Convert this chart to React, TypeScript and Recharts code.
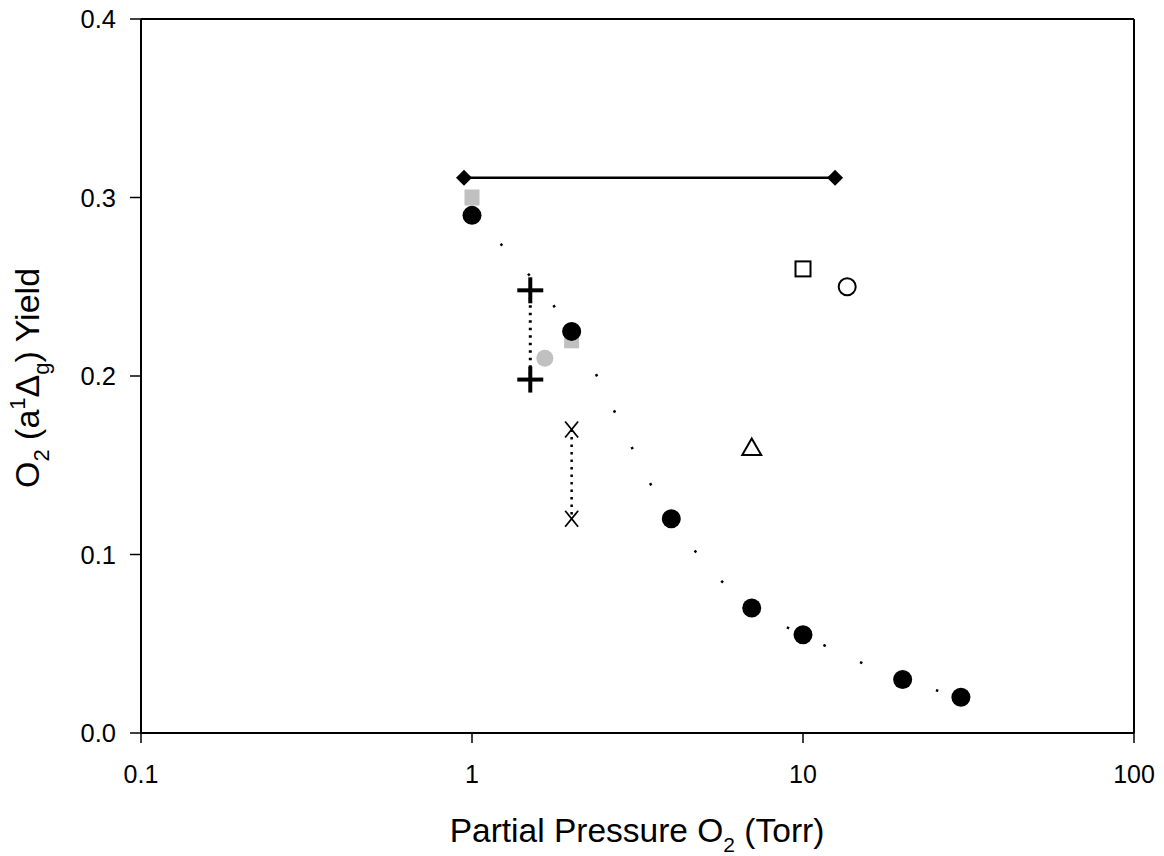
import React from 'react';
import { ComposedChart, Line, Scatter, XAxis, YAxis, ReferenceLine, Label } from 'recharts';

const FONT = '"Liberation Sans", Arial, Helvetica, sans-serif';

const xTicks = [0.1, 1, 10, 100];
const yTicks = [0, 0.1, 0.2, 0.3, 0.4];

const blackX = [1, 2, 4, 7, 10, 20, 30];
const blackY = [0.29, 0.225, 0.12, 0.07, 0.055, 0.03, 0.02];
const graySqX = [1, 2];
const graySqY = [0.3, 0.22];
const grayCircX = [1.66];
const grayCircY = [0.21];
const plusX = [1.5, 1.5];
const plusY = [0.248, 0.198];
const crossX = [2, 2];
const crossY = [0.17, 0.12];
const openSqX = [10];
const openSqY = [0.26];
const openCircX = [13.6];
const openCircY = [0.25];
const triX = [7];
const triY = [0.16];
const rangeX = [0.946, 12.5];
const rangeY = [0.311, 0.311];

const zip = (xs: number[], ys: number[]) => xs.map((x, i) => ({ x, y: ys[i] }));

const blackData = zip(blackX, blackY);
const graySqData = zip(graySqX, graySqY);
const grayCircData = zip(grayCircX, grayCircY);
const plusData = zip(plusX, plusY);
const crossData = zip(crossX, crossY);
const openSqData = zip(openSqX, openSqY);
const openCircData = zip(openCircX, openCircY);
const triData = zip(triX, triY);
const rangeData = zip(rangeX, rangeY);

const BlackCircle = (p: any) => <circle cx={p.cx} cy={p.cy} r={9.5} fill="#000" />;
const GraySquare = (p: any) => <rect x={p.cx - 7.5} y={p.cy - 8} width={15} height={16} fill="#c0c0c0" />;
const GrayCircle = (p: any) => <circle cx={p.cx} cy={p.cy} r={8.5} fill="#c0c0c0" />;
const Plus = (p: any) => (
  <g stroke="#000" strokeWidth={4}>
    <line x1={p.cx - 13} y1={p.cy} x2={p.cx + 13} y2={p.cy} />
    <line x1={p.cx} y1={p.cy - 13} x2={p.cx} y2={p.cy + 13} />
  </g>
);
const Cross = (p: any) => (
  <g stroke="#000" strokeWidth={1.8}>
    <line x1={p.cx - 6.5} y1={p.cy - 8} x2={p.cx + 6.5} y2={p.cy + 8} />
    <line x1={p.cx + 6.5} y1={p.cy - 8} x2={p.cx - 6.5} y2={p.cy + 8} />
  </g>
);
const OpenSquare = (p: any) => (
  <rect x={p.cx - 7.5} y={p.cy - 7.5} width={15} height={15} fill="#fff" stroke="#000" strokeWidth={2} />
);
const OpenCircle = (p: any) => <circle cx={p.cx} cy={p.cy} r={8.5} fill="#fff" stroke="#000" strokeWidth={2} />;
const Triangle = (p: any) => (
  <polygon
    points={`${p.cx},${p.cy - 9} ${p.cx + 9.5},${p.cy + 7.5} ${p.cx - 9.5},${p.cy + 7.5}`}
    fill="#fff"
    stroke="#000"
    strokeWidth={2}
  />
);
const Diamond = (p: any) => {
  if (p.cx == null) return null;
  return (
    <polygon
      points={`${p.cx},${p.cy - 8} ${p.cx + 8},${p.cy} ${p.cx},${p.cy + 8} ${p.cx - 8},${p.cy}`}
      fill="#000"
    />
  );
};

const XTitle = () => (
  <text x={637} y={842} textAnchor="middle" fontFamily={FONT} fontSize={33.5} fill="#000">
    Partial Pressure O
    <tspan dy={10} fontSize={21}>2</tspan>
    <tspan dy={-10}> (Torr)</tspan>
  </text>
);

const YTitle = () => (
  <text
    x={39}
    y={378}
    transform="rotate(-90, 39, 378)"
    textAnchor="middle"
    fontFamily={FONT}
    fontSize={34}
    fill="#000"
  >
    O
    <tspan dy={10} fontSize={22}>2</tspan>
    <tspan dy={-10}> (a</tspan>
    <tspan dy={-14} fontSize={22}>1</tspan>
    <tspan dy={14}>Δ</tspan>
    <tspan dy={10} fontSize={22}>g</tspan>
    <tspan dy={-10}>) Yield</tspan>
  </text>
);

export default function App() {
  return (
    <div style={{ position: 'absolute', left: 0, top: 0, width: 1164, height: 856, background: '#fff' }}>
      <ComposedChart
        width={1164}
        height={856}
        margin={{ top: 19, right: 30, bottom: 0, left: 0 }}
        style={{ fontFamily: FONT }}
      >
        <XAxis
          dataKey="x"
          type="number"
          scale="log"
          domain={[0.1, 100]}
          ticks={xTicks}
          allowDataOverflow
          height={123}
          tickFormatter={(v: number) => String(v)}
          axisLine={{ stroke: '#000', strokeWidth: 2 }}
          tickLine={{ stroke: '#000', strokeWidth: 1.5 }}
          tickSize={10}
          tickMargin={22}
          tick={{ fill: '#000', fontSize: 25, fontFamily: FONT }}
          interval={0}
        >
          <Label content={XTitle} />
        </XAxis>
        <YAxis
          dataKey="y"
          type="number"
          domain={[0, 0.4]}
          ticks={yTicks}
          allowDataOverflow
          width={141}
          tickFormatter={(v: number) => v.toFixed(1)}
          axisLine={{ stroke: '#000', strokeWidth: 2 }}
          tickLine={{ stroke: '#000', strokeWidth: 1.5 }}
          tickSize={11}
          tickMargin={14}
          tick={{ fill: '#000', fontSize: 25.5, fontFamily: FONT }}
          interval={0}
        >
          <Label content={YTitle} />
        </YAxis>
        <ReferenceLine y={0.4} stroke="#000" strokeWidth={2} />
        <ReferenceLine x={100} stroke="#000" strokeWidth={2} />

        <Line
          data={blackData}
          dataKey="y"
          type="monotone"
          stroke="#000"
          strokeWidth={2.5}
          strokeDasharray="2.5 38"
          dot={false}
          activeDot={false}
          isAnimationActive={false}
        />
        <Line
          data={plusData}
          dataKey="y"
          type="linear"
          stroke="#000"
          strokeWidth={3}
          strokeDasharray="2.5 5"
          dot={false}
          activeDot={false}
          isAnimationActive={false}
        />
        <Line
          data={crossData}
          dataKey="y"
          type="linear"
          stroke="#000"
          strokeWidth={2.5}
          strokeDasharray="2.5 5"
          dot={false}
          activeDot={false}
          isAnimationActive={false}
        />
        <Line
          data={rangeData}
          dataKey="y"
          type="linear"
          stroke="#000"
          strokeWidth={2.5}
          dot={<Diamond />}
          activeDot={false}
          isAnimationActive={false}
        />
        <Scatter data={graySqData} dataKey="y" shape={GraySquare} isAnimationActive={false} />
        <Scatter data={blackData} dataKey="y" shape={BlackCircle} isAnimationActive={false} />
        <Scatter data={grayCircData} dataKey="y" shape={GrayCircle} isAnimationActive={false} />
        <Scatter data={plusData} dataKey="y" shape={Plus} isAnimationActive={false} />
        <Scatter data={crossData} dataKey="y" shape={Cross} isAnimationActive={false} />
        <Scatter data={openSqData} dataKey="y" shape={OpenSquare} isAnimationActive={false} />
        <Scatter data={openCircData} dataKey="y" shape={OpenCircle} isAnimationActive={false} />
        <Scatter data={triData} dataKey="y" shape={Triangle} isAnimationActive={false} />
      </ComposedChart>
    </div>
  );
}
